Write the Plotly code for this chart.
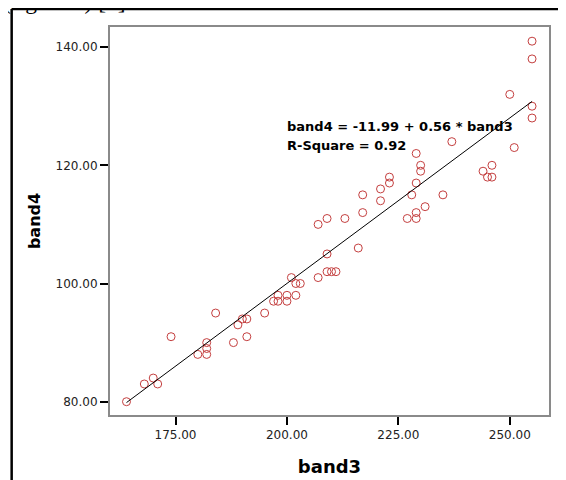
import numpy as np
import plotly.graph_objects as go

# ---- data ----
band3 = [164, 168, 170, 171, 174, 180, 182, 182, 182, 184,
         188, 189, 190, 191, 191, 195, 197, 198, 198, 200,
         200, 202, 202, 201, 203, 207, 209, 210, 211, 209,
         216, 207, 209, 213, 217, 217, 221, 221, 223, 223,
         227, 229, 229, 231, 228, 229, 235, 230, 230, 229,
         237, 244, 246, 245, 246, 251, 250, 255, 255, 255,
         255]
band4 = [80, 83, 84, 83, 91, 88, 90, 89, 88, 95,
         90, 93, 94, 94, 91, 95, 97, 98, 97, 98,
         97, 98, 100, 101, 100, 101, 102, 102, 102, 105,
         106, 110, 111, 111, 112, 115, 114, 116, 118, 117,
         111, 111, 112, 113, 115, 117, 115, 120, 119, 122,
         124, 119, 120, 118, 118, 123, 132, 141, 138, 130,
         128]
intercept = -11.99
slope = 0.56
r_square = 0.92

x_ticks = [175, 200, 225, 250]
y_ticks = [80, 100, 120, 140]
x_tick_labels = ["175.00", "200.00", "225.00", "250.00"]
y_tick_labels = ["80.00", "100.00", "120.00", "140.00"]

fit_x = np.array([min(band3), max(band3)], dtype=float)
fit_y = intercept + slope * fit_x

fig = go.Figure()
fig.add_trace(go.Scatter(
    x=band3, y=band4, mode="markers",
    marker=dict(symbol="circle-open", size=8, color="#c43f3f",
                line=dict(width=1, color="#c43f3f")),
    showlegend=False, hoverinfo="x+y"))
fig.add_trace(go.Scatter(
    x=fit_x, y=fit_y, mode="lines",
    line=dict(color="black", width=1), showlegend=False))

eq_text = f"band4 = {intercept:.2f} + {slope:.2f} * band3"
r_text = f"R-Square = {r_square:.2f}"
fig.add_annotation(x=199.6, y=126.6, xref="x", yref="y", text=eq_text,
                   showarrow=False, xanchor="left", yanchor="middle",
                   font=dict(family="DejaVu Sans", size=13, color="black", weight="bold"))
fig.add_annotation(x=199.6, y=123.4, xref="x", yref="y", text=r_text,
                   showarrow=False, xanchor="left", yanchor="middle",
                   font=dict(family="DejaVu Sans", size=13, color="black", weight="bold"))

# clipped caption at the very top of the page
fig.add_annotation(x=-0.2489, y=1.029, xref="paper", yref="paper",
                   text="(figure 5) [2].", showarrow=False,
                   xanchor="left", yanchor="bottom",
                   font=dict(family="Liberation Serif", size=23.5, color="black"))

# outer page frame (left and top edges)
fig.add_shape(type="line", xref="paper", yref="paper",
              x0=-0.224, x1=-0.224, y0=1.0463, y1=-0.3,
              line=dict(color="black", width=2.5))
fig.add_shape(type="line", xref="paper", yref="paper",
              x0=-0.224, x1=1.2, y0=1.0463, y1=1.0463,
              line=dict(color="black", width=2.5))

axis_common = dict(
    showgrid=False, zeroline=False, showline=True, mirror=True,
    linecolor="#8a8a8a", linewidth=2, automargin=False,
    ticks="outside", ticklen=8, tickwidth=2, tickcolor="black",
    tickfont=dict(family="DejaVu Sans", size=12, color="#222222"),
)
fig.update_xaxes(range=[160.3, 258.8], tickvals=x_ticks, ticktext=x_tick_labels,
                 title=dict(text="band3", standoff=19,
                            font=dict(family="DejaVu Sans", size=18, color="black", weight="bold")),
                 **axis_common)
fig.update_yaxes(range=[77.75, 143.4], tickvals=y_ticks, ticktext=y_tick_labels,
                 title=dict(text="band4", standoff=11,
                            font=dict(family="DejaVu Sans", size=16, color="black", weight="bold")),
                 **axis_common)

fig.update_layout(
    width=558, height=472,
    margin=dict(l=101.5, r=16.5, t=18.5, b=65),
    paper_bgcolor="white", plot_bgcolor="white",
)
fig.write_html("out.html")
